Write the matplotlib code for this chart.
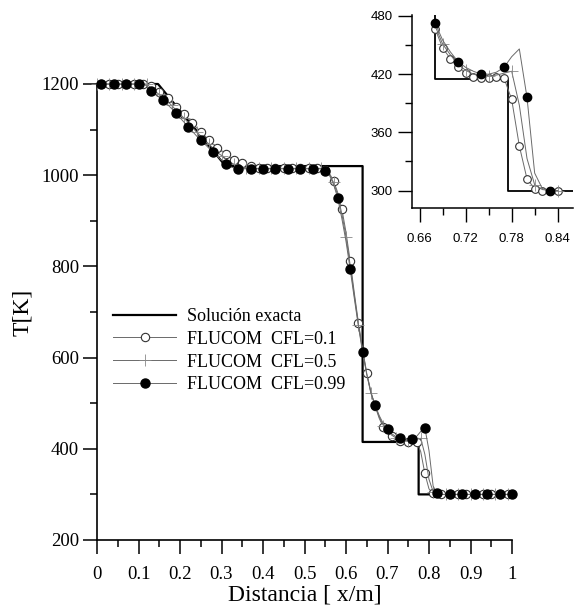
import numpy as np
import matplotlib
matplotlib.use("Agg")
import matplotlib.pyplot as plt
from matplotlib.ticker import MultipleLocator, FixedLocator

# ---------------- data ----------------
x_grid = np.round(np.arange(101) * 0.01, 2)

x_exact = [0.0, 0.147, 0.31, 0.64, 0.64, 0.775, 0.775, 1.0]
T_exact = [1200, 1200, 1020, 1020, 415, 415, 300, 300]

T_cfl01 = [1200, 1200, 1200, 1200, 1200, 1200, 1200, 1200, 1200, 1200,
           1200, 1200, 1200, 1196, 1190, 1183, 1177, 1170, 1160, 1150,
           1142, 1134, 1124, 1114, 1104, 1095, 1086, 1077, 1068, 1060,
           1053, 1046, 1039, 1033, 1029, 1026, 1023, 1020, 1018, 1016,
           1016, 1016, 1016, 1016, 1016, 1016, 1016, 1016, 1016, 1016,
           1016, 1016, 1016, 1016, 1016, 1012, 1004, 988, 962, 926,
           875, 812, 742, 676, 618, 566, 525, 494, 467, 447,
           436, 427, 421, 417, 416, 416, 417, 416, 394, 346,
           312, 302, 300, 300, 300, 300, 300, 300, 300, 300,
           300, 300, 300, 300, 300, 300, 300, 300, 300, 300,
           300]

T_cfl05 = [1200, 1200, 1200, 1200, 1200, 1200, 1200, 1200, 1200, 1200,
           1200, 1200, 1200, 1191, 1184, 1177, 1171, 1162, 1153, 1143,
           1134, 1125, 1115, 1105, 1095, 1086, 1077, 1068, 1059, 1050,
           1043, 1036, 1029, 1024, 1020, 1018, 1016, 1015, 1015, 1015,
           1015, 1015, 1015, 1015, 1015, 1015, 1015, 1015, 1015, 1015,
           1015, 1015, 1015, 1015, 1015, 1011, 1002, 984, 956, 915,
           865, 803, 736, 672, 615, 565, 523, 495, 470, 451,
           440, 430, 424, 420, 418, 418, 419, 421, 423, 388,
           333, 306, 301, 300, 300, 300, 300, 300, 300, 300,
           300, 300, 300, 300, 300, 300, 300, 300, 300, 300,
           300]

T_cfl99 = [1200, 1200, 1200, 1200, 1200, 1200, 1200, 1200, 1200, 1200,
           1200, 1200, 1196, 1185, 1178, 1171, 1165, 1155, 1146, 1136,
           1126, 1116, 1106, 1096, 1086, 1077, 1068, 1059, 1050, 1041,
           1033, 1025, 1019, 1016, 1014, 1014, 1014, 1014, 1014, 1014,
           1014, 1014, 1014, 1014, 1014, 1014, 1014, 1014, 1014, 1014,
           1014, 1014, 1014, 1014, 1014, 1010, 1000, 980, 950, 905,
           855, 794, 730, 668, 612, 563, 522, 496, 473, 455,
           443, 433, 427, 423, 420, 420, 422, 427, 438, 446,
           396, 318, 302, 300, 300, 300, 300, 300, 300, 300,
           300, 300, 300, 300, 300, 300, 300, 300, 300, 300,
           300]

labels = ["Solución exacta", "FLUCOM  CFL=0.1", "FLUCOM  CFL=0.5", "FLUCOM  CFL=0.99"]

main_xticks = [0, 0.1, 0.2, 0.3, 0.4, 0.5, 0.6, 0.7, 0.8, 0.9, 1]
main_xticklabels = ["0", "0.1", "0.2", "0.3", "0.4", "0.5", "0.6", "0.7", "0.8", "0.9", "1"]
main_yticks = [200, 400, 600, 800, 1000, 1200]
inset_xticks = [0.66, 0.72, 0.78, 0.84]
inset_yticks = [300, 360, 420, 480]
inset_data_start = 0.68
inset_data_end = 0.84

# ---------------- figure ----------------
serif = ["Liberation Serif", "DejaVu Serif"]
sans = ["Liberation Sans", "DejaVu Sans"]

fig = plt.figure(figsize=(5.77, 6.14), dpi=100)
ax = fig.add_axes([97 / 577, (614 - 540) / 614, 415 / 577, 456 / 614])

line_col = "#6a6a6a"
lw_num = 0.7

ax.plot(x_exact, T_exact, color="black", lw=1.6, label=labels[0], zorder=2, clip_on=False)
ax.plot(x_grid, T_cfl01, color=line_col, lw=lw_num, marker="o", ms=6, mfc="white",
        mec="#333333", mew=0.8, markevery=(1, 2), label=labels[1], zorder=3, clip_on=False)
ax.plot(x_grid, T_cfl05, color=line_col, lw=lw_num, marker="+", ms=8, mec="#888888",
        mew=0.6, markevery=(0, 3), label=labels[2], zorder=3, clip_on=False)
ax.plot(x_grid, T_cfl99, color=line_col, lw=lw_num, marker="o", ms=6.5, mfc="black",
        mec="black", markevery=(1, 3), label=labels[3], zorder=4, clip_on=False)

ax.set_xlim(0, 1)
ax.set_ylim(200, 1200)
for s in ["top", "right"]:
    ax.spines[s].set_visible(False)
for s in ["left", "bottom"]:
    ax.spines[s].set_linewidth(1.2)

ax.xaxis.set_major_locator(FixedLocator(main_xticks))
ax.set_xticklabels(main_xticklabels)
ax.xaxis.set_minor_locator(MultipleLocator(0.05))
ax.yaxis.set_major_locator(FixedLocator(main_yticks))
ax.yaxis.set_minor_locator(MultipleLocator(100))
ax.tick_params(which="major", direction="out", length=10, width=1.1)
ax.tick_params(which="minor", direction="out", length=5, width=1.1)
ax.tick_params(axis="x", which="major", pad=9)
ax.tick_params(axis="y", which="major", pad=3)
for lab in ax.get_xticklabels() + ax.get_yticklabels():
    lab.set_fontfamily(serif)
    lab.set_fontsize(13.5)

ax.set_xlabel("Distancia [ x/m]", fontfamily=serif, fontsize=17, labelpad=1)
ax.set_ylabel("T[K]", fontfamily=serif, fontsize=17, labelpad=6)

leg = ax.legend(loc="upper left", bbox_to_anchor=(113 / 577, 1 - 308 / 614),
                bbox_transform=fig.transFigure, frameon=False, prop={"family": serif, "size": 13},
                handlelength=3.5, handletextpad=0.6, labelspacing=0.32, borderpad=0,
                borderaxespad=0, numpoints=1)

# ---------------- inset ----------------
axi = fig.add_axes([412 / 577, (614 - 208) / 614, 161 / 577, 193 / 614])
mask = (x_grid >= inset_data_start - 1e-9) & (x_grid <= inset_data_end + 1e-9)
xi = x_grid[mask]
xe = np.clip(np.array(x_exact), inset_data_start, None)
axi.plot(xe, T_exact, color="black", lw=1.3, zorder=2)
axi.plot(xi, np.array(T_cfl01)[mask], color=line_col, lw=lw_num, marker="o", ms=5.5,
         mfc="white", mec="#333333", mew=0.8, zorder=3)
axi.plot(xi, np.array(T_cfl05)[mask], color=line_col, lw=lw_num, marker="+", ms=9,
         mec="#888888", mew=0.6, markevery=(1, 3), zorder=3)
axi.plot(xi, np.array(T_cfl99)[mask], color=line_col, lw=lw_num, marker="o", ms=6,
         mfc="black", mec="black", markevery=(0, 3), zorder=4)

axi.set_xlim(0.65, 0.86)
axi.set_ylim(282, 481)
for s in ["top", "right"]:
    axi.spines[s].set_visible(False)
for s in ["left", "bottom"]:
    axi.spines[s].set_linewidth(1.1)
axi.xaxis.set_major_locator(FixedLocator(inset_xticks))
axi.xaxis.set_minor_locator(MultipleLocator(0.03))
axi.yaxis.set_major_locator(FixedLocator(inset_yticks))
axi.yaxis.set_minor_locator(MultipleLocator(30))
axi.set_xticklabels(["0.66", "0.72", "0.78", "0.84"])
axi.set_yticklabels(["300", "360", "420", "480"])
axi.tick_params(which="major", direction="out", length=10, width=1.0)
axi.tick_params(which="minor", direction="out", length=5, width=1.0)
axi.tick_params(axis="x", which="major", pad=8)
axi.tick_params(axis="y", which="major", pad=4)
for lab in axi.get_xticklabels() + axi.get_yticklabels():
    lab.set_fontfamily(sans)
    lab.set_fontsize(9.5)

fig.savefig("out.png", dpi=100)
